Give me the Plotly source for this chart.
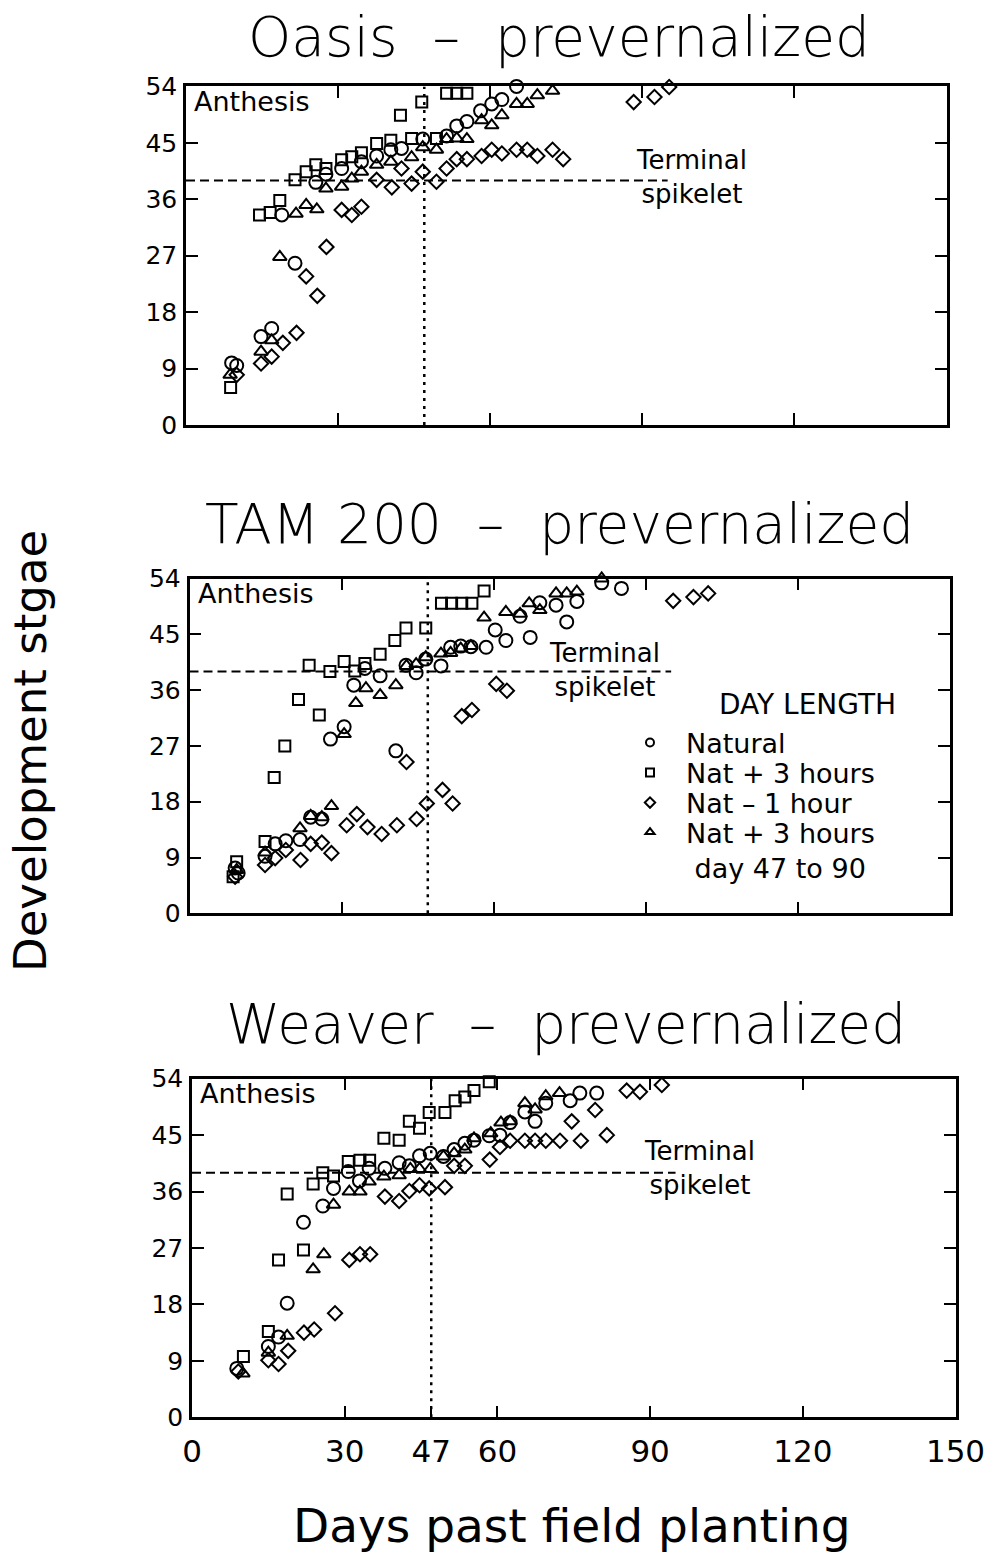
import plotly.graph_objects as go

# ---------------- data (days past planting, development stage) ----------------
oasis_nat_x = [9.0, 10.0, 14.8, 16.9, 18.9, 21.5, 25.6, 27.6, 30.7, 34.6, 37.6, 40.4, 42.5, 46.7, 51.4, 53.4, 55.4, 58.1, 60.3, 62.3, 65.2]
oasis_nat_y = [9.9, 9.5, 14.1, 15.4, 33.5, 25.8, 38.7, 40.0, 40.9, 42.0, 42.9, 43.9, 44.1, 45.6, 46.1, 47.7, 48.4, 50.1, 51.2, 51.9, 54.0]
oasis_p3_x = [8.8, 14.5, 16.6, 18.5, 21.5, 23.7, 25.6, 27.6, 30.7, 32.7, 34.6, 37.6, 40.4, 42.3, 44.5, 46.5, 49.4, 51.4, 53.4, 55.4]
oasis_p3_y = [6.0, 33.5, 33.9, 35.8, 39.1, 40.4, 41.5, 40.9, 42.3, 42.8, 43.4, 44.9, 45.4, 49.4, 45.7, 51.5, 45.7, 52.9, 52.9, 52.9]
oasis_m1_x = [10.0, 14.8, 16.9, 19.1, 21.8, 23.7, 25.9, 27.7, 30.7, 32.7, 34.6, 37.6, 40.6, 42.5, 44.5, 46.7, 49.4, 51.4, 53.4, 55.4, 58.3, 60.3, 62.3, 65.2, 67.3, 69.3, 72.3, 74.4, 88.3, 92.4, 95.3]
oasis_m1_y = [8.0, 9.8, 10.9, 13.1, 14.7, 23.7, 20.6, 28.4, 34.3, 33.5, 34.8, 39.1, 37.9, 40.9, 38.5, 40.4, 38.8, 40.9, 42.4, 42.4, 42.9, 43.9, 43.3, 43.9, 43.9, 42.9, 43.9, 42.4, 51.5, 52.3, 53.9]
oasis_d47_x = [8.7, 14.8, 16.9, 18.5, 21.7, 23.7, 25.8, 27.6, 30.7, 32.7, 34.6, 37.6, 40.4, 44.5, 46.7, 49.4, 51.4, 53.4, 55.4, 58.3, 60.3, 62.3, 65.2, 67.3, 69.3, 72.3]
oasis_d47_y = [8.0, 11.7, 13.5, 26.8, 33.7, 35.1, 34.4, 37.7, 38.0, 39.3, 40.4, 41.5, 42.0, 42.7, 44.3, 43.9, 45.6, 45.7, 45.6, 48.6, 47.8, 49.4, 51.2, 51.2, 52.6, 53.3]

tam_nat_x = [9.0, 9.6, 14.9, 16.9, 19.0, 21.8, 23.9, 26.1, 27.8, 30.5, 32.4, 34.6, 37.6, 40.7, 42.7, 44.7, 46.6, 49.6, 51.5, 53.5, 55.5, 58.5, 60.3, 62.4, 65.2, 67.2, 69.1, 72.3, 74.4, 76.4, 81.3, 85.2]
tam_nat_y = [7.3, 6.5, 9.2, 11.2, 11.7, 11.9, 15.5, 15.2, 28.1, 30.1, 36.8, 39.5, 38.3, 26.2, 40.0, 38.8, 41.0, 39.9, 42.9, 43.1, 43.0, 42.9, 45.7, 44.0, 47.9, 44.5, 50.1, 49.7, 47.0, 50.3, 53.3, 52.4]
tam_p3_x = [8.6, 9.3, 14.9, 16.7, 18.8, 21.5, 23.6, 25.6, 27.7, 30.5, 32.6, 34.6, 37.6, 40.5, 42.7, 46.6, 49.7, 51.7, 53.7, 55.7, 58.1]
tam_p3_y = [5.9, 8.3, 11.6, 21.9, 27.0, 34.5, 40.0, 32.0, 39.0, 40.6, 39.1, 40.3, 41.8, 44.0, 46.0, 46.0, 50.0, 50.0, 50.0, 50.0, 52.0]
tam_m1_x = [9.0, 14.9, 16.9, 19.0, 21.9, 23.9, 26.1, 28.0, 31.0, 33.0, 35.1, 37.9, 40.9, 42.8, 44.8, 46.8, 49.9, 51.9, 53.7, 55.7, 60.5, 62.6, 95.4, 99.4, 102.3]
tam_m1_y = [5.9, 7.8, 8.9, 10.2, 8.6, 11.2, 11.4, 9.7, 14.2, 16.0, 13.9, 12.8, 14.2, 24.4, 15.2, 17.7, 19.9, 17.7, 31.8, 32.8, 37.0, 35.9, 50.4, 51.0, 51.6]
tam_d47_x = [9.3, 14.9, 21.8, 23.9, 26.1, 28.0, 30.5, 32.8, 34.8, 37.6, 40.7, 42.8, 44.7, 46.6, 49.6, 51.5, 53.5, 55.5, 58.1, 62.4, 65.2, 67.0, 69.1, 72.3, 74.4, 76.4, 81.3]
tam_d47_y = [7.0, 9.8, 13.7, 15.7, 15.5, 17.3, 28.9, 33.9, 36.3, 35.2, 36.8, 39.9, 40.2, 41.3, 41.9, 42.0, 42.7, 43.1, 47.7, 48.6, 48.3, 50.0, 48.9, 51.6, 51.6, 51.9, 54.0]

weaver_nat_x = [8.8, 15.0, 17.0, 18.7, 21.9, 25.7, 27.8, 30.7, 32.9, 34.8, 37.9, 40.7, 42.7, 44.7, 46.8, 49.4, 51.5, 53.6, 55.4, 58.4, 60.5, 62.5, 65.4, 67.4, 69.5, 74.3, 76.2, 79.5]
weaver_nat_y = [7.8, 11.3, 12.8, 18.2, 31.1, 33.7, 36.5, 39.2, 37.7, 39.7, 39.7, 40.6, 40.1, 41.7, 42.1, 41.6, 42.7, 43.7, 44.2, 44.9, 45.0, 47.0, 48.7, 47.2, 50.1, 50.5, 51.7, 51.7]
weaver_p3_x = [10.1, 15.0, 17.0, 18.7, 21.9, 23.8, 25.7, 27.8, 30.7, 33.0, 34.9, 37.7, 40.7, 42.7, 44.7, 46.6, 49.7, 51.7, 53.6, 55.4, 58.4]
weaver_p3_y = [9.7, 13.7, 25.1, 35.6, 26.7, 37.2, 39.0, 38.5, 40.8, 41.0, 41.0, 44.5, 44.2, 47.2, 46.1, 48.6, 48.6, 50.5, 51.1, 52.1, 53.5]
weaver_m1_x = [9.1, 15.0, 17.0, 18.9, 22.0, 24.0, 28.1, 30.9, 33.0, 35.0, 37.9, 40.7, 42.7, 44.7, 46.6, 49.7, 51.5, 53.6, 58.5, 60.5, 62.5, 65.4, 67.4, 69.5, 72.3, 74.6, 76.4, 79.2, 81.5, 85.4, 88.0, 92.3]
weaver_m1_y = [7.3, 9.1, 8.5, 10.6, 13.5, 14.0, 16.6, 25.1, 26.0, 26.0, 35.2, 34.5, 36.1, 37.0, 36.5, 36.7, 40.1, 40.1, 41.1, 43.1, 44.1, 44.1, 44.1, 44.1, 44.1, 47.2, 44.1, 49.0, 45.0, 52.1, 51.9, 53.0]
weaver_d47_x = [10.0, 15.0, 18.7, 23.8, 25.9, 27.8, 30.9, 33.0, 34.8, 37.7, 40.7, 42.9, 44.7, 46.8, 49.4, 51.5, 53.6, 55.4, 58.7, 60.7, 62.5, 65.4, 67.4, 69.5, 72.2, 74.3]
weaver_d47_y = [7.0, 10.3, 13.0, 23.6, 26.0, 33.9, 36.0, 36.0, 37.6, 38.4, 38.6, 39.6, 39.6, 39.6, 41.6, 42.1, 42.7, 44.5, 45.3, 47.0, 47.2, 50.1, 49.1, 51.2, 51.7, 54.1]

panel_titles = ["Oasis  \u2013  prevernalized", "TAM 200  \u2013  prevernalized", "Weaver  \u2013  prevernalized"]
series_names = ["Natural", "Nat + 3 hours", "Nat \u2013 1 hour", "Nat + 3 hours<br>\u00a0day 47 to 90"]
y_ticks = [0, 9, 18, 27, 36, 45, 54]
x_ticks_inner = [30, 60, 90, 120]
x_tick_labels_vals = [0, 30, 47, 60, 90, 120, 150]
treatment_day = 47
terminal_stage = 39
terminal_line_end = 95
terminal_label_x = [99.8, 81.8, 99.8]
terminal_label_y = [39.5, 39.2, 39.8]

panels = [
    [(oasis_nat_x, oasis_nat_y), (oasis_p3_x, oasis_p3_y), (oasis_m1_x, oasis_m1_y), (oasis_d47_x, oasis_d47_y)],
    [(tam_nat_x, tam_nat_y), (tam_p3_x, tam_p3_y), (tam_m1_x, tam_m1_y), (tam_d47_x, tam_d47_y)],
    [(weaver_nat_x, weaver_nat_y), (weaver_p3_x, weaver_p3_y), (weaver_m1_x, weaver_m1_y), (weaver_d47_x, weaver_d47_y)],
]

# ---------------- styling ----------------
FONT = "DejaVu Sans"
W, H = 992, 1552
symbols = ["circle-open", "square-open", "diamond-open", "triangle-up-open"]
sizes = [13, 11, 11, 12]
x_dom = [(186, 946.5), (189.5, 950), (192, 955.5)]
y_pix = [(425, 86.4), (913.3, 578.5), (1417.3, 1078.7)]
title_pos = [(559, 37), (559, 524), (566, 1024)]
legend_rows = [743, 773, 803, 825]

fig = go.Figure()
for p, series in enumerate(panels):
    xa = "x" if p == 0 else f"x{p+1}"
    ya = "y" if p == 0 else f"y{p+1}"
    for s, (xs, ys) in enumerate(series):
        fig.add_trace(go.Scatter(
            x=xs, y=ys, mode="markers", xaxis=xa, yaxis=ya, showlegend=False,
            cliponaxis=False,
            marker=dict(symbol=symbols[s], size=sizes[s], color="black",
                        line=dict(color="black", width=2))))

# legend-only traces, one legend per row for exact spacing
legend_keys = ["legend", "legend2", "legend3", "legend4"]
for s in range(4):
    fig.add_trace(go.Scatter(
        x=[None], y=[None], mode="markers", xaxis="x2", yaxis="y2",
        name=series_names[s], showlegend=True, legend=legend_keys[s],
        marker=dict(symbol=symbols[s], size=8, color="black",
                    line=dict(color="black", width=2))))

layout = dict(
    width=W, height=H, margin=dict(l=0, r=0, t=0, b=0, autoexpand=False),
    paper_bgcolor="white", plot_bgcolor="white",
    font=dict(family=FONT, color="black", size=24),
    showlegend=True,
)
for s in range(4):
    last = s == 3
    layout[legend_keys[s]] = dict(
        x=614 / W, y=1 - (legend_rows[s] - (17 if last else 0)) / H,
        xanchor="left", yanchor="top" if last else "middle",
        valign="top" if last else "middle",
        font=dict(family=FONT, size=27, color="black"),
        bgcolor="rgba(0,0,0,0)", itemwidth=62, borderwidth=0)

for p in range(3):
    xk = "xaxis" if p == 0 else f"xaxis{p+1}"
    yk = "yaxis" if p == 0 else f"yaxis{p+1}"
    xa = "x" if p == 0 else f"x{p+1}"
    ya = "y" if p == 0 else f"y{p+1}"
    last = p == 2
    layout[xk] = dict(
        domain=[x_dom[p][0] / W, x_dom[p][1] / W], range=[0, 150], anchor=ya,
        showline=True, linewidth=2.5, linecolor="black", mirror="ticks",
        ticks="inside", ticklen=12, tickwidth=2, tickcolor="black",
        tickvals=x_tick_labels_vals if last else x_ticks_inner,
        showticklabels=last, ticklabelstandoff=5,
        tickfont=dict(family=FONT, size=31, color="black"),
        showgrid=False, zeroline=False, fixedrange=True)
    layout[yk] = dict(
        domain=[1 - y_pix[p][0] / H, 1 - y_pix[p][1] / H], range=[0, 54], anchor=xa,
        showline=True, linewidth=2.5, linecolor="black", mirror="ticks",
        ticks="inside", ticklen=12, tickwidth=2, tickcolor="black",
        tickvals=y_ticks, ticklabelstandoff=1,
        tickfont=dict(family=FONT, size=25, color="black"),
        showgrid=False, zeroline=False, fixedrange=True)
fig.update_layout(**layout)

shapes = []
annotations = []
for p in range(3):
    xa = "x" if p == 0 else f"x{p+1}"
    ya = "y" if p == 0 else f"y{p+1}"
    shapes.append(dict(type="line", xref=xa, yref=ya, x0=treatment_day, x1=treatment_day,
                       y0=0, y1=54, line=dict(color="black", width=2.5, dash="3px,5px")))
    shapes.append(dict(type="line", xref=xa, yref=ya, x0=0, x1=terminal_line_end,
                       y0=terminal_stage, y1=terminal_stage,
                       line=dict(color="black", width=2, dash="9px,5px")))
    annotations.append(dict(xref=xa, yref=ya, x=1.2, y=51.6, text="Anthesis",
                            xanchor="left", yanchor="middle", showarrow=False,
                            font=dict(family=FONT, size=27, color="black")))
    annotations.append(dict(xref=xa, yref=ya, x=terminal_label_x[p], y=terminal_label_y[p],
                            text="Terminal<br>spikelet", align="center",
                            xanchor="center", yanchor="middle", showarrow=False,
                            font=dict(family=FONT, size=26, color="black")))
    annotations.append(dict(xref="paper", yref="paper", x=title_pos[p][0] / W,
                            y=1 - title_pos[p][1] / H, text=panel_titles[p],
                            xanchor="center", yanchor="middle", showarrow=False,
                            font=dict(family=FONT, size=55, color="black", weight=200)))

annotations.append(dict(xref="paper", yref="paper", x=807 / W, y=1 - 705 / H,
                        text="DAY LENGTH", xanchor="center", yanchor="middle",
                        showarrow=False, font=dict(family=FONT, size=28, color="black")))
annotations.append(dict(xref="paper", yref="paper", x=30 / W, y=1 - 751 / H,
                        text="Development stgae", textangle=-90, xanchor="center",
                        yanchor="middle", showarrow=False,
                        font=dict(family=FONT, size=45, color="black")))
annotations.append(dict(xref="paper", yref="paper", x=572 / W, y=1 - 1525 / H,
                        text="Days past field planting", xanchor="center",
                        yanchor="middle", showarrow=False,
                        font=dict(family=FONT, size=47, color="black")))
fig.update_layout(shapes=shapes, annotations=annotations)

fig.write_html("out.html")
